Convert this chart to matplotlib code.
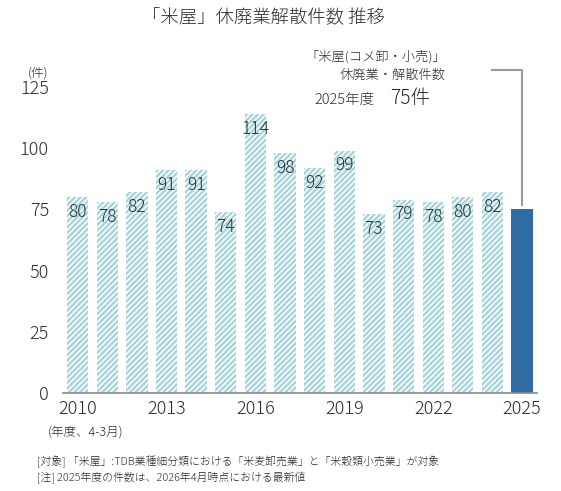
import matplotlib.pyplot as plt

plt.rcParams['font.family'] = ['Noto Sans CJK JP', 'DejaVu Sans']
plt.rcParams['font.weight'] = 'light'

years = list(range(2010, 2026))
counts = [80, 78, 82, 91, 91, 74, 114, 98, 92, 99, 73, 79, 78, 80, 82, 75]
xticks = [2010, 2013, 2016, 2019, 2022, 2025]
yticks = [0, 25, 50, 75, 100, 125]

hatch_col = '#a6d4dc'
last_col = '#2f6ca3'
text_col = '#2b2b2b'

plt.rcParams['hatch.linewidth'] = 1.7

fig = plt.figure(figsize=(5.61, 4.91), dpi=100)
ax = fig.add_axes([0.112, 0.1996, 0.845, 0.623])

ax.bar(years[:-1], counts[:-1], width=0.72, color='white',
       edgecolor=hatch_col, hatch='//////', linewidth=0)
ax.bar(years[-1], counts[-1], width=0.72, color=last_col, linewidth=0)

for x, v in zip(years[:-1], counts[:-1]):
    ax.text(x, v - 6, str(v), ha='center', va='center', fontsize=12.5,
            color='#24343c')

ax.set_xlim(2009.5, 2025.5)
ax.set_ylim(0, 125)
ax.set_xticks(xticks)
ax.set_xticklabels([str(t) for t in xticks], fontsize=13, color=text_col)
ax.set_yticks(yticks)
ax.set_yticklabels([str(t) for t in yticks], fontsize=13, color=text_col)
ax.tick_params(axis='y', length=0, pad=10)
ax.tick_params(axis='x', length=0, pad=5)
for s in ['top', 'right', 'left']:
    ax.spines[s].set_visible(False)
ax.spines['bottom'].set_color('#8a8a8a')
ax.spines['bottom'].set_linewidth(1.2)

# callout line to the 2025 bar
ax.plot([2024.0, 2025, 2025], [132, 132, counts[-1] + 2], color='#9a9a9a',
        linewidth=1.5, clip_on=False)

fig.text(0.47, 0.963, '「米屋」休廃業解散件数 推移', ha='center', va='center',
         fontsize=13.2, color=text_col)
fig.text(0.068, 0.851, '(件)', ha='center', va='center', fontsize=9,
         color=text_col)
fig.text(0.795, 0.884, '「米屋(コメ卸・小売)」', ha='right', va='center',
         fontsize=9.5, color=text_col)
fig.text(0.795, 0.846, '休廃業・解散件数', ha='right', va='center',
         fontsize=9.5, color=text_col)
fig.text(0.561, 0.797, '2025年度', ha='left', va='center',
         fontsize=10.5, color=text_col)
fig.text(0.695, 0.800, '75件', ha='left', va='center',
         fontsize=14, color=text_col)
fig.text(0.085, 0.118, '(年度、4-3月)', ha='left', va='center',
         fontsize=9, color=text_col)
fig.text(0.066, 0.059, '[対象] 「米屋」:TDB業種細分類における「米麦卸売業」と「米穀類小売業」が対象',
         ha='left', va='center', fontsize=7.8, color=text_col)
fig.text(0.066, 0.026, '[注] 2025年度の件数は、2026年4月時点における最新値',
         ha='left', va='center', fontsize=7.8, color=text_col)

fig.savefig('out.png', dpi=100)
